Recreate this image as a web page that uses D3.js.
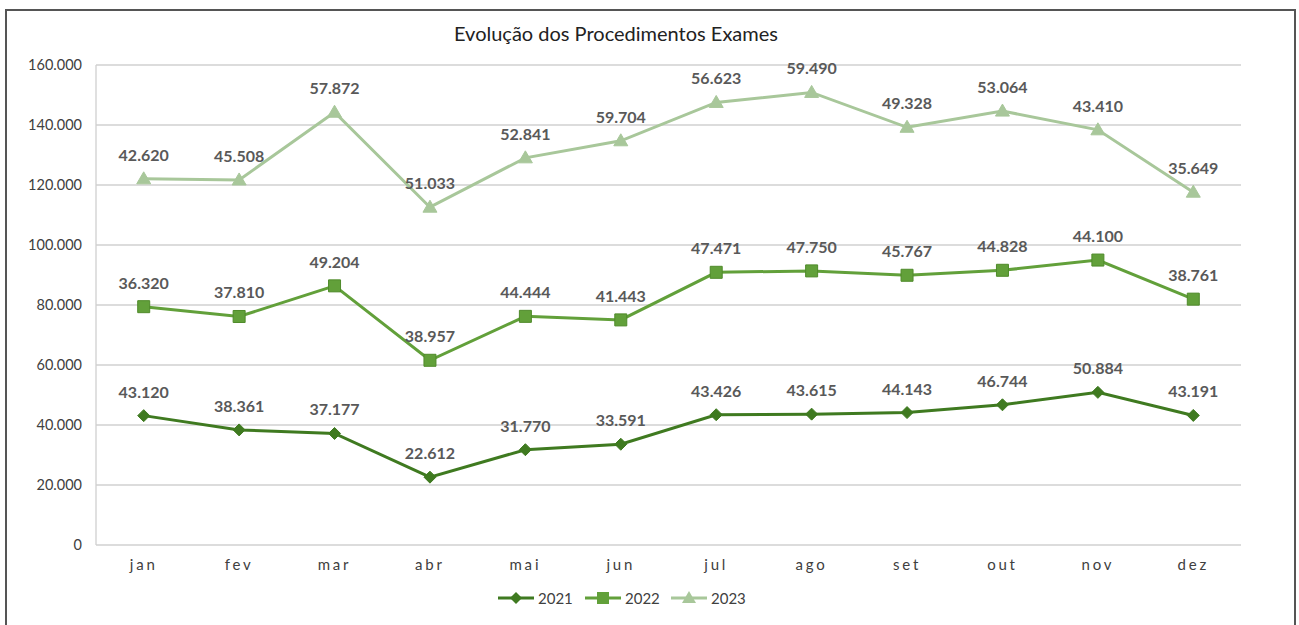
<!DOCTYPE html>
<html>
<head>
<meta charset="utf-8">
<script src="https://cdn.jsdelivr.net/npm/d3@7"></script>
<style>
  body { margin: 0; background: #fff; }
  svg { display: block; font-family: Lato, "Open Sans", sans-serif; }
</style>
</head>
<body>
<div id="chart"></div>
<script>
// Chart data
const months = ['jan', 'fev', 'mar', 'abr', 'mai', 'jun', 'jul', 'ago', 'set', 'out', 'nov', 'dez'];
const values2021 = [43120, 38361, 37177, 22612, 31770, 33591, 43426, 43615, 44143, 46744, 50884, 43191];
const values2022 = [36320, 37810, 49204, 38957, 44444, 41443, 47471, 47750, 45767, 44828, 44100, 38761];
const values2023 = [42620, 45508, 57872, 51033, 52841, 59704, 56623, 59490, 49328, 53064, 43410, 35649];
const yTicks = [0, 20000, 40000, 60000, 80000, 100000, 120000, 140000, 160000];

const width = 1299;
const height = 625;
const margin = { top: 65, right: 58, bottom: 80, left: 96 };

// Stacked lines: each series plotted on top of the previous ones
const series = [
  { name: '2021', values: values2021, color: '#3f7a20', marker: 'diamond' },
  { name: '2022', values: values2022, color: '#62a03a', marker: 'square' },
  { name: '2023', values: values2023, color: '#a8c79a', marker: 'triangle' }
];
let running = months.map(() => 0);
series.forEach(s => {
  s.points = s.values.map((v, i) => {
    running[i] += v;
    return { month: months[i], value: v, total: running[i] };
  });
});

const svg = d3.select('#chart')
  .append('svg')
  .attr('width', width)
  .attr('height', height);

// Outer frame
svg.append('rect')
  .attr('x', 6)
  .attr('y', 10)
  .attr('width', 1289)
  .attr('height', 640)
  .attr('fill', 'none')
  .attr('stroke', '#555')
  .attr('stroke-width', 2);

const x = d3.scaleBand()
  .domain(months)
  .range([margin.left, width - margin.right]);

const y = d3.scaleLinear()
  .domain([0, 160000])
  .range([height - margin.bottom, margin.top]);

const fmt = d3.formatLocale({ decimal: ',', thousands: '.', grouping: [3], currency: ['', ''] }).format(',');

// Gridlines
svg.append('g')
  .selectAll('line')
  .data(yTicks)
  .enter()
  .append('line')
  .attr('x1', margin.left)
  .attr('x2', width - margin.right)
  .attr('y1', d => y(d))
  .attr('y2', d => y(d))
  .attr('stroke', '#d0d0d0')
  .attr('stroke-width', 1.3);

// Y axis line
svg.append('line')
  .attr('x1', margin.left)
  .attr('x2', margin.left)
  .attr('y1', y(0))
  .attr('y2', y(160000))
  .attr('stroke', '#d0d0d0')
  .attr('stroke-width', 1.3);

// Y axis labels
const yAxis = d3.axisLeft(y)
  .tickValues(yTicks)
  .tickSize(0)
  .tickPadding(14)
  .tickFormat(d => fmt(d));

svg.append('g')
  .attr('transform', `translate(${margin.left},0)`)
  .call(yAxis)
  .call(g => g.select('.domain').remove())
  .selectAll('text')
  .style('font-size', '14.5px')
  .style('font-family', 'Lato, sans-serif')
  .attr('fill', '#404040');

// X axis labels
const xAxis = d3.axisBottom(x).tickSize(0).tickPadding(14);
svg.append('g')
  .attr('transform', `translate(0,${y(0)})`)
  .call(xAxis)
  .call(g => g.select('.domain').remove())
  .selectAll('text')
  .style('font-size', '15px')
  .style('font-family', 'Lato, sans-serif')
  .style('letter-spacing', '2.8px')
  .attr('fill', '#404040');

// Title
svg.append('text')
  .attr('x', 616)
  .attr('y', 41)
  .attr('text-anchor', 'middle')
  .style('font-size', '20px')
  .attr('fill', '#222')
  .text('Evolução dos Procedimentos Exames');

const cx = d => x(d.month) + x.bandwidth() / 2;

const line = d3.line()
  .x(cx)
  .y(d => y(d.total));

function markerPath(type) {
  if (type === 'diamond') return 'M0,-6L6,0L0,6L-6,0Z';
  if (type === 'square') return 'M-6,-6H6V6H-6Z';
  return 'M0,-7L7,5H-7Z';
}

series.forEach(s => {
  const g = svg.append('g');

  g.append('path')
    .datum(s.points)
    .attr('fill', 'none')
    .attr('stroke', s.color)
    .attr('stroke-width', 3)
    .attr('d', line);

  g.selectAll('.marker')
    .data(s.points)
    .enter()
    .append('path')
    .attr('class', 'marker')
    .attr('transform', d => `translate(${cx(d)},${y(d.total)})`)
    .attr('d', markerPath(s.marker))
    .attr('fill', s.color)
    .attr('stroke', s.marker === 'square' ? '#4f8a2a' : s.color)
    .attr('stroke-width', 1);

  // Value labels above points
  g.selectAll('.value-label')
    .data(s.points)
    .enter()
    .append('text')
    .attr('class', 'value-label')
    .attr('x', cx)
    .attr('y', d => y(d.total) - 18)
    .attr('text-anchor', 'middle')
    .style('font-size', '16px')
    .style('font-weight', 'bold')
    .attr('fill', '#595959')
    .text(d => fmt(d.value));
});

// Legend
const legend = svg.append('g').attr('transform', 'translate(498,598)');
const legendX = [0, 87, 173];
series.forEach((s, i) => {
  const lg = legend.append('g').attr('transform', `translate(${legendX[i]},0)`);
  lg.append('line')
    .attr('x1', 0)
    .attr('x2', 36)
    .attr('y1', 0)
    .attr('y2', 0)
    .attr('stroke', s.color)
    .attr('stroke-width', 3);
  lg.append('path')
    .attr('transform', 'translate(18,0)')
    .attr('d', markerPath(s.marker))
    .attr('fill', s.color);
  lg.append('text')
    .attr('x', 40)
    .attr('y', 5.5)
    .style('font-size', '15px')
    .attr('fill', '#404040')
    .text(s.name);
});
</script>
</body>
</html>
